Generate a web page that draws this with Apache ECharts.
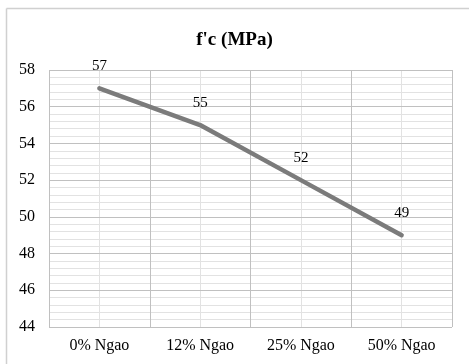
<!DOCTYPE html>
<html>
<head>
<meta charset="utf-8">
<style>
  html, body { margin: 0; padding: 0; background: #fff; }
  #chart { width: 469px; height: 364px; }
</style>
<script src="https://cdn.jsdelivr.net/npm/echarts@6/dist/echarts.min.js"></script>
</head>
<body>
<div id="chart"></div>
<script>
// Compressive strength by replacement ratio
const categories = ['0% Ngao', '12% Ngao', '25% Ngao', '50% Ngao'];
const strength = [57, 55, 52, 49];
const yTicks = { min: 44, max: 58, step: 2 };

const serif = '"Liberation Serif", "Times New Roman", serif';
const majorGrid = '#c0c0c0';
const minorGrid = '#e2e2e2';

const chart = echarts.init(document.getElementById('chart'), null, { renderer: 'canvas' });

chart.setOption({
  animation: false,
  backgroundColor: '#fff',
  title: {
    text: "f'c (MPa)",
    left: 'center',
    top: 26,
    textStyle: { fontFamily: serif, fontWeight: 'bold', fontSize: 19, color: '#000' }
  },
  grid: { left: 49, right: 17, top: 70, bottom: 37, containLabel: false },
  xAxis: [
    {
      type: 'category',
      data: categories,
      boundaryGap: true,
      z: 3,
      axisLine: { show: false },
      axisTick: { show: false },
      axisLabel: { fontFamily: serif, fontSize: 16, color: '#000', margin: 11 },
      splitLine: { show: true, lineStyle: { color: majorGrid, width: 1 } }
    },
    {
      // light guide lines through the middle of each category
      type: 'value',
      min: 0,
      max: categories.length,
      interval: 0.5,
      z: 1,
      position: 'bottom',
      axisLine: { show: false },
      axisTick: { show: false },
      axisLabel: { show: false },
      splitLine: { show: true, lineStyle: { color: minorGrid, width: 1 } }
    }
  ],
  yAxis: {
    type: 'value',
    min: yTicks.min,
    max: yTicks.max,
    interval: yTicks.step,
    z: 2,
    axisLine: { show: false },
    axisTick: { show: false },
    axisLabel: { fontFamily: serif, fontSize: 16, color: '#000', margin: 14 },
    splitLine: { show: true, lineStyle: { color: majorGrid, width: 1 } },
    minorTick: { show: false, splitNumber: 5 },
    minorSplitLine: { show: true, lineStyle: { color: minorGrid, width: 1 } }
  },
  series: [{
    type: 'line',
    xAxisIndex: 0,
    data: strength,
    symbol: 'circle',
    symbolSize: 1,
    showSymbol: true,
    itemStyle: { opacity: 0 },
    lineStyle: { color: '#7b7b7b', width: 4.5, cap: 'round' },
    label: {
      show: true,
      position: 'top',
      distance: 14,
      fontFamily: serif,
      fontSize: 15,
      color: '#000',
      opacity: 1
    },
    z: 5
  }],
  graphic: [
    { type: 'line', shape: { x1: 6.5, y1: 8.5, x2: 469, y2: 8.5 }, style: { stroke: '#d0d0d0', lineWidth: 1.5 } },
    { type: 'line', shape: { x1: 6.5, y1: 8.5, x2: 6.5, y2: 364 }, style: { stroke: '#d0d0d0', lineWidth: 1.5 } }
  ]
});
</script>
</body>
</html>
